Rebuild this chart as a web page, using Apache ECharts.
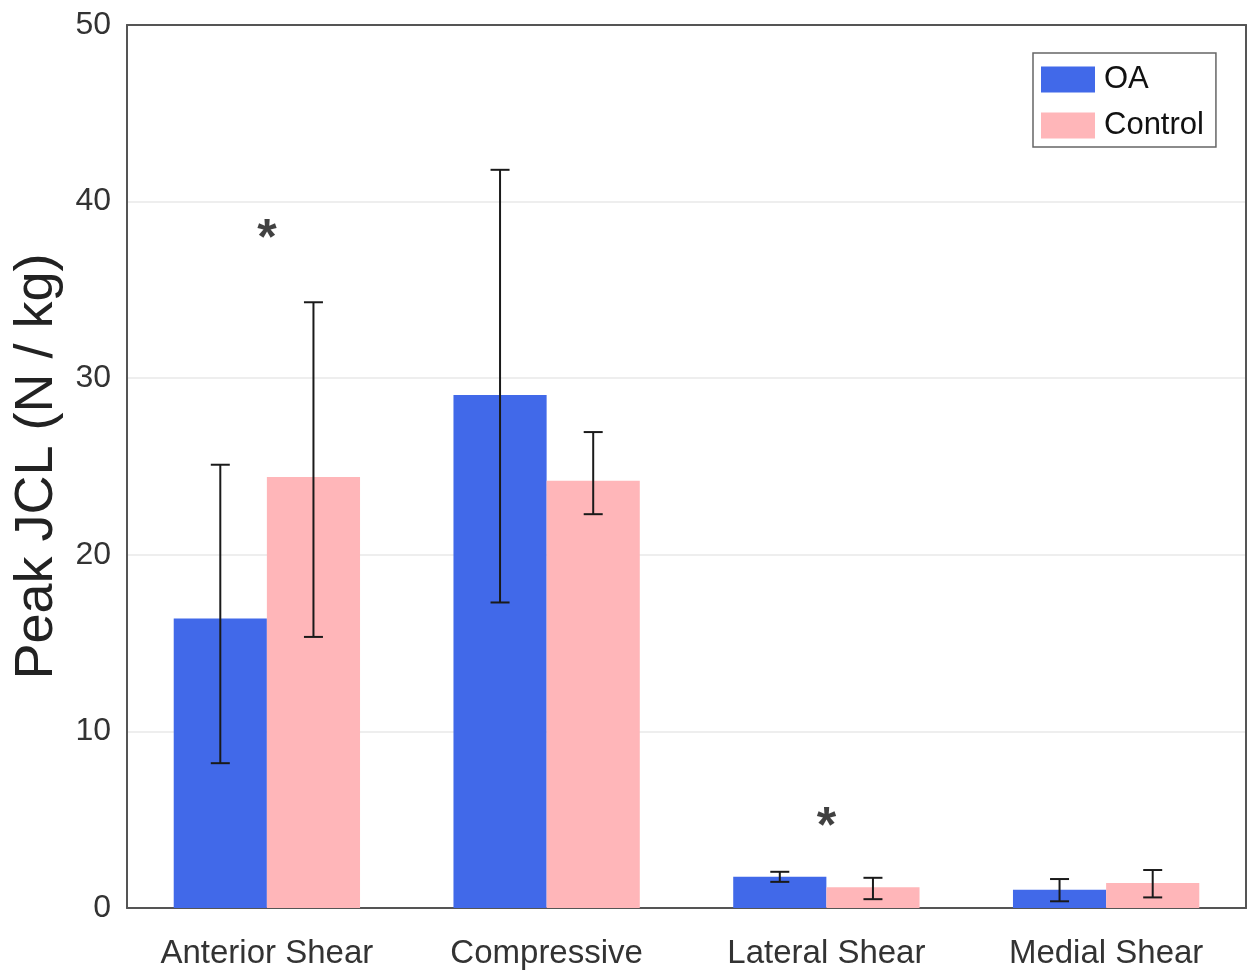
<!DOCTYPE html>
<html><head><meta charset="utf-8">
<script src="https://cdn.jsdelivr.net/npm/echarts@6/dist/echarts.min.js"></script>
<style>html,body{margin:0;padding:0;background:#fff}#c{width:1257px;height:973px}</style>
</head><body><div id="c"></div>
<script>
const categories = ['Anterior Shear', 'Compressive', 'Lateral Shear', 'Medial Shear'];
const oaMean = [16.4, 29.05, 1.77, 1.03];
const oaLow = [8.2, 17.3, 1.48, 0.38];
const oaHigh = [25.1, 41.8, 2.05, 1.64];
const ctrlMean = [24.4, 24.2, 1.17, 1.42];
const ctrlLow = [15.35, 22.3, 0.5, 0.6];
const ctrlHigh = [34.3, 26.95, 1.71, 2.15];
const sigMarks = [[0, 38.5], [2, 5.2]];
const yTicks = [0, 10, 20, 30, 40, 50];

const FONT = 'Liberation Sans, Arial, sans-serif';
const chart = echarts.init(document.getElementById('c'), null, {renderer: 'canvas'});

function errSeries(low, high, offsetIdx) {
  return {
    type: 'custom',
    z: 10,
    data: categories.map((c, i) => [i, low[i], high[i]]),
    renderItem: function (params, api) {
      const i = api.value(0);
      const lo = api.coord([i, api.value(1)]);
      const hi = api.coord([i, api.value(2)]);
      const bw = api.size([1, 0])[0];
      const barW = bw * 0.333;
      const x = lo[0] + (offsetIdx === 0 ? -barW / 2 : barW / 2);
      const cap = 9.5;
      const st = {stroke: '#1a1a1a', lineWidth: 2};
      return {type: 'group', children: [
        {type: 'line', shape: {x1: x, y1: lo[1], x2: x, y2: hi[1]}, style: st},
        {type: 'line', shape: {x1: x - cap, y1: lo[1], x2: x + cap, y2: lo[1]}, style: st},
        {type: 'line', shape: {x1: x - cap, y1: hi[1], x2: x + cap, y2: hi[1]}, style: st}
      ]};
    }
  };
}

chart.setOption({
  animation: false,
  backgroundColor: '#fff',
  grid: {left: 127, right: 11, top: 25, bottom: 65, containLabel: false},
  legend: {
    data: ['OA', 'Control'],
    orient: 'vertical',
    left: 1033, top: 53,
    icon: 'rect',
    itemWidth: 54, itemHeight: 26, itemGap: 15,
    padding: [11, 12, 6, 8],
    borderColor: '#666', borderWidth: 1.5,
    textStyle: {fontFamily: FONT, fontSize: 31, color: '#111', padding: [0, 0, 0, 4]}
  },
  xAxis: [{
    type: 'category', data: categories,
    axisTick: {show: false},
    axisLine: {lineStyle: {color: '#555', width: 2}},
    axisLabel: {fontFamily: FONT, fontSize: 33, color: '#333', margin: 29}
  }, {
    type: 'category', data: categories, position: 'top', z: 5,
    axisTick: {show: false}, axisLabel: {show: false},
    axisLine: {show: true, onZero: false, lineStyle: {color: '#555', width: 2}}
  }],
  yAxis: [{
    type: 'value', min: 0, max: 50, interval: 10,
    name: 'Peak JCL (N / kg)', nameLocation: 'middle', nameGap: 62, nameRotate: 90,
    nameTextStyle: {fontFamily: FONT, fontSize: 54, color: '#222'},
    axisLine: {show: true, lineStyle: {color: '#555', width: 2}},
    axisTick: {show: false},
    axisLabel: {fontFamily: FONT, fontSize: 32, color: '#333', margin: 16,
      formatter: v => yTicks.indexOf(v) >= 0 ? String(v) : ''},
    splitLine: {lineStyle: {color: '#e8e8e8', width: 1.5}}
  }, {
    type: 'value', min: 0, max: 50, interval: 10, position: 'right', z: 5,
    axisLine: {show: true, onZero: false, lineStyle: {color: '#555', width: 2}},
    axisTick: {show: false}, axisLabel: {show: false}, splitLine: {show: false}
  }],
  series: [
    {name: 'OA', type: 'bar', data: oaMean, barGap: '0%', barCategoryGap: '33.4%', itemStyle: {color: '#4169E9'}},
    {name: 'Control', type: 'bar', data: ctrlMean, itemStyle: {color: '#FFB6B9'}},
    errSeries(oaLow, oaHigh, 0),
    errSeries(ctrlLow, ctrlHigh, 1),
    {
      type: 'scatter', data: sigMarks, symbolSize: 0, z: 11,
      label: {show: true, formatter: '*', position: 'inside', fontFamily: FONT, fontSize: 50, fontWeight: 'bold', color: '#111', offset: [0, 12]}
    }
  ]
});
</script></body></html>
